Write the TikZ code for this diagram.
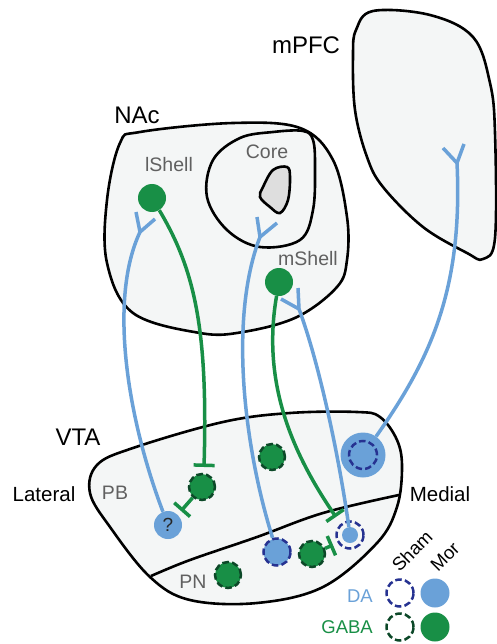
\documentclass[tikz,border=0pt]{standalone}
\usepackage{fontspec}
\setmainfont{Liberation Sans}
\usetikzlibrary{arrows.meta}
\definecolor{dablue}{RGB}{106,161,216}
\definecolor{dkblue}{RGB}{38,50,145}
\definecolor{gagreen}{RGB}{24,143,70}
\definecolor{dkgreen}{RGB}{12,72,40}
\definecolor{regfill}{RGB}{244,246,246}
\definecolor{labgray}{RGB}{96,96,96}
\definecolor{corefill}{RGB}{222,222,222}
\begin{document}
\begin{tikzpicture}[x=1pt,y=-1pt,
  region/.style={draw=black, line width=2.6pt, fill=regfill},
  biglabel/.style={font=\fontsize{24}{28}\selectfont, inner sep=0},
  sidelabel/.style={font=\fontsize{20.5}{24}\selectfont, inner sep=0},
  sublabel/.style={font=\fontsize{19.5}{23}\selectfont, text=labgray, inner sep=0},
  soma/.style={circle, fill=gagreen, minimum size=28pt, inner sep=0},
  dashpat/.style={line width=2.5pt, dash pattern=on 6.5pt off 3.2pt},
  gabacell/.style={circle, fill=gagreen, draw=dkgreen, dashpat, minimum size=26pt, inner sep=0},
  dacell/.style={circle, fill=dablue, draw=dkblue, dashpat, minimum size=27pt, inner sep=0},
  darim/.style={circle, draw=dkblue, dashpat, minimum size=27pt, inner sep=0},
  gabarim/.style={circle, draw=dkgreen, dashpat, minimum size=27pt, inner sep=0},
  dafill/.style={circle, fill=dablue, minimum size=29pt, inner sep=0},
  gabafill/.style={circle, fill=gagreen, minimum size=29pt, inner sep=0},
  dafib/.style={draw=dablue, line width=3.5pt},
  gabafib/.style={draw=gagreen, line width=3.5pt},
  inhib/.style={-{Bar[width=21pt]}}
]
\useasboundingbox (0,0) rectangle (496,644);

% regions
\draw[region] plot[smooth cycle, tension=0.6] coordinates {(356,30) (373,11) (430,15) (473,37) (490,83) (495,133) (495,238) (483,259) (467,253) (423,227) (383,187) (367,157) (355,110) (353,55)};
\draw[region] plot[smooth cycle, tension=0.6] coordinates {(140,132) (233,123) (300,128) (333,160) (347,217) (347,260) (337,287) (297,317) (243,332) (200,333) (133,313) (107,263) (107,200) (120,143)};
\draw[region] plot[smooth cycle, tension=0.6] coordinates {(213,160) (240,138) (273,132) (303,131) (313,140) (315,167) (313,210) (300,240) (260,247) (227,230) (207,197)};
\draw[draw=black, line width=2.6pt, fill=corefill] plot[smooth cycle, tension=0.6] coordinates {(263,187) (273,170) (287,167) (290,177) (288,200) (280,213) (270,207) (260,197)};
\draw[region] plot[smooth cycle, tension=0.6] coordinates {(133,448) (223,422) (290,413) (357,412) (380,417) (397,440) (402,467) (397,507) (377,543) (323,587) (257,603) (190,600) (150,577) (110,527) (90,493) (97,465)};
\draw[line width=2.6pt] plot[smooth, tension=0.6] coordinates {(151,576) (190,560) (257,537) (323,513) (399,495)};

% labels
\node[biglabel] (lpfc) at (306,45) {mPFC};
\node[biglabel] (lnac) at (137,115) {NAc};
\node[biglabel] (lvta) at (78,437) {VTA};
\node[sidelabel] (llat) at (44,494) {Lateral};
\node[sidelabel] (lmed) at (440,494) {Medial};
\node[sublabel] (lpb) at (115,493) {PB};
\node[sublabel] (lpn) at (193,582) {PN};
\node[sublabel] (lls) at (169,165) {lShell};
\node[sublabel] (lcore) at (267,152) {Core};
\node[sublabel] (lms) at (308,259) {mShell};

% cells
\node[soma] (ls) at (152,198) {};
\node[soma] (ms) at (279,282) {};
\node[circle, fill=dablue, minimum size=28pt, inner sep=0, font=\fontsize{19}{21}\selectfont, text=black!85] (q) at (168,525) {?};
\node[gabacell] (g1) at (202,487) {};
\node[gabacell] (g2) at (272,457) {};
\node[dacell] (d1) at (277,552) {};
\node[gabacell] (g3) at (312,554) {};
\node[gabacell] (g4) at (228,575) {};
\node[darim] (d2r) at (350,535) {};
\node[circle, fill=dablue, minimum size=16pt, inner sep=0] (d2) at (350,535) {};
\node[circle, fill=dablue, minimum size=45pt, inner sep=0] (bigo) at (363,455) {};
\node[circle, fill=dablue, draw=dkblue, dashpat, minimum size=28pt, inner sep=0] (bigi) at (363,455) {};

% junctions and ends
\coordinate (jl) at (140,232);
\coordinate (jla) at (136,212);
\coordinate (jlb) at (155,219);
\coordinate (jc) at (260,237);
\coordinate (jca) at (257,217);
\coordinate (jcb) at (277,223);
\coordinate (jm) at (299,309);
\coordinate (jma) at (298,288);
\coordinate (jmb) at (281,299);
\coordinate (jp) at (457,163);
\coordinate (jpa) at (443,148);
\coordinate (jpb) at (464,144);
\coordinate (t1) at (204,467);
\coordinate (t2) at (181,511);
\coordinate (t3) at (336,517);
\coordinate (t4) at (333,545);

% DA fibers
\draw[dafib] (q) .. controls (128,420) and (108,300) .. (jl);
\draw[dafib] (jl) -- (jla);
\draw[dafib] (jl) -- (jlb);
\draw[dafib] (d1) .. controls (245,450) and (228,320) .. (jc);
\draw[dafib] (jc) -- (jca);
\draw[dafib] (jc) -- (jcb);
\draw[dafib] (d2) .. controls (338,450) and (318,360) .. (jm);
\draw[dafib] (jm) -- (jma);
\draw[dafib] (jm) -- (jmb);
\draw[dafib] (bigo) .. controls (430,360) and (463,290) .. (jp);
\draw[dafib] (jp) -- (jpa);
\draw[dafib] (jp) -- (jpb);

% GABA fibers
\draw[gabafib, inhib] (ls) .. controls (195,270) and (208,330) .. (t1);
\draw[gabafib, inhib] (g1) -- (t2);
\draw[gabafib, inhib] (ms) .. controls (262,380) and (290,450) .. (t3);
\draw[gabafib, inhib] (g3) -- (t4);

% legend
\node[font=\fontsize{18.5}{22}\selectfont, rotate=45, inner sep=0] (lsham) at (412,551) {Sham};
\node[font=\fontsize{18.5}{22}\selectfont, rotate=45, inner sep=0] (lmor) at (445,557) {Mor};
\node[font=\fontsize{18.5}{22}\selectfont, text=dablue, anchor=east, inner sep=0] (lda) at (373,596) {DA};
\node[font=\fontsize{18.5}{22}\selectfont, text=gagreen, anchor=east, inner sep=0] (lgaba) at (373,627) {GABA};
\node[darim] (ksd) at (400,593) {};
\node[dafill] (kmd) at (435,593) {};
\node[gabarim] (ksg) at (400,627) {};
\node[gabafill] (kmg) at (435,627) {};
\end{tikzpicture}
\end{document}
